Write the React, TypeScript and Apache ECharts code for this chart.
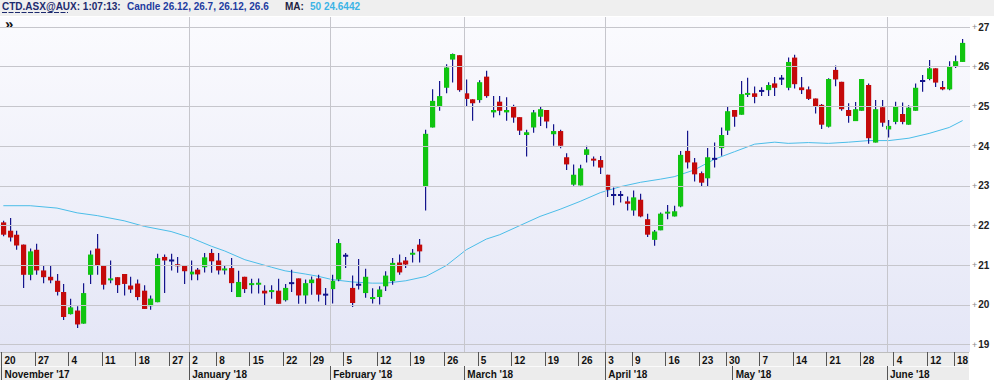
import React, { useEffect, useRef } from 'react';
import * as echarts from 'echarts';

// ---- Data ----
const opens = [22.08,21.87,21.77,21.52,20.76,21.39,20.87,20.71,20.61,20.33,19.77,19.86,19.53,20.76,21.42,20.99,20.62,20.70,20.78,20.49,20.54,20.36,19.97,20.07,21.21,21.12,21.02,20.99,20.77,20.89,20.95,21.31,21.12,20.87,20.93,20.20,20.71,20.50,20.52,20.36,20.33,20.36,20.12,20.55,20.67,20.24,20.55,20.67,20.26,20.40,20.64,21.24,20.43,20.51,20.30,20.15,20.20,20.47,20.60,21.07,21.12,21.27,21.52,22.98,24.47,24.99,25.47,26.18,26.29,25.33,25.18,25.16,25.75,24.85,25.12,24.85,25.01,24.73,24.28,24.47,24.74,24.91,24.30,24.38,23.72,23.03,23.01,23.78,23.68,23.65,23.28,22.77,22.77,22.61,22.38,22.65,22.16,21.64,21.88,22.30,22.23,22.48,23.88,23.59,23.32,23.19,23.68,23.95,24.39,24.91,24.79,25.29,25.33,25.39,25.41,25.58,25.70,25.47,26.23,25.48,25.43,25.20,25.04,24.49,25.92,25.62,24.91,24.63,24.89,25.54,24.09,24.98,24.42,24.61,24.81,24.54,24.89,25.64,25.69,25.96,25.49,25.43,26.01,26.12];
const highs = [22.12,22.19,21.87,21.52,21.42,21.54,20.99,20.99,20.78,20.53,20.16,19.97,20.55,21.37,21.79,20.99,21.12,20.70,20.78,20.71,20.64,20.50,20.24,21.29,21.27,21.29,21.21,20.99,21.12,20.93,21.31,21.41,21.31,20.99,21.18,20.86,20.71,20.66,20.67,20.50,20.50,20.66,20.53,20.89,20.67,20.64,20.72,20.76,20.43,20.76,21.66,21.31,20.74,21.16,20.91,20.42,20.47,20.85,21.18,21.27,21.21,21.41,21.66,24.41,25.43,25.64,26.06,26.33,26.29,25.68,25.18,25.66,25.90,25.26,25.26,25.23,25.04,24.73,24.41,24.91,25.01,24.91,24.55,24.41,23.82,23.54,23.53,24.01,23.74,23.75,23.28,22.96,22.87,22.73,22.88,22.80,22.30,21.89,22.33,22.52,22.50,23.88,24.39,23.70,23.36,23.95,24.09,24.47,24.99,24.91,25.64,25.72,25.50,25.48,25.61,25.74,25.79,26.23,26.30,25.74,25.50,25.20,25.06,25.71,26.03,25.62,25.08,25.11,25.69,25.58,25.16,25.16,24.66,25.12,25.10,25.03,25.58,25.79,26.17,25.96,25.64,26.14,26.28,26.70];
const lows = [21.73,21.60,21.39,20.43,20.62,20.76,20.55,20.55,20.24,19.62,19.76,19.42,19.53,20.53,20.76,20.39,20.55,20.30,20.24,20.30,20.12,19.90,19.88,20.07,20.30,20.87,20.81,20.53,20.62,20.62,20.82,20.81,20.77,20.77,20.33,20.20,20.30,20.29,20.29,19.99,20.16,20.03,20.09,20.33,20.03,20.03,20.26,20.09,19.98,20.04,20.60,20.93,19.95,20.39,20.18,20.04,20.01,20.35,20.51,20.76,20.93,21.07,21.07,22.38,24.47,24.89,25.33,25.60,25.37,25.01,24.64,25.09,25.22,24.72,24.78,24.64,24.59,24.28,23.74,24.34,24.51,24.45,24.01,23.95,23.40,23.00,23.01,23.59,23.49,23.30,22.72,22.51,22.58,22.38,22.25,22.21,21.71,21.49,21.88,22.16,22.23,22.46,23.44,23.11,22.98,22.98,23.46,23.76,24.28,24.49,24.79,25.24,25.08,25.26,25.26,25.26,25.54,25.41,25.45,25.31,25.16,24.82,24.43,24.47,25.51,24.89,24.59,24.63,24.89,24.06,24.09,24.49,24.22,24.55,24.55,24.54,24.89,25.37,25.66,25.49,25.41,25.41,25.97,26.12];
const closes = [21.77,21.70,21.50,20.76,21.35,20.87,20.70,20.62,20.33,19.70,19.94,19.51,20.30,21.27,20.99,20.51,20.67,20.50,20.53,20.39,20.20,19.90,20.16,21.18,21.12,21.12,20.98,20.85,20.84,20.77,21.20,21.10,20.87,20.92,20.55,20.58,20.40,20.55,20.55,20.29,20.37,20.03,20.43,20.55,20.24,20.55,20.64,20.26,20.26,20.61,21.56,21.24,20.05,20.51,20.71,20.20,20.39,20.74,21.06,20.82,21.02,21.31,21.35,24.31,25.14,25.26,25.98,26.32,25.41,25.19,25.08,25.61,25.26,24.91,24.89,24.91,24.72,24.39,24.35,24.85,24.93,24.62,24.38,24.01,23.54,23.28,23.44,23.92,23.64,23.46,22.90,22.77,22.77,22.55,22.71,22.23,21.77,21.85,22.30,22.35,22.36,23.78,23.59,23.29,23.08,23.72,23.68,24.28,24.88,24.74,25.31,25.34,25.24,25.39,25.54,25.47,25.70,26.12,25.56,25.41,25.19,24.99,24.54,25.69,25.68,24.93,24.76,24.93,25.69,24.20,24.93,24.59,24.51,25.01,24.61,24.97,25.47,25.64,25.96,25.60,25.43,26.01,26.14,26.60];

const maIndex = [0,4,8,11,14,18,21,25,28,31,33,36,40,42,45,47,49,52,55,57,60,63,66,69,72,74,77,80,83,86,89,92,95,98,100,103,106,109,112,115,117,120,123,126,129,132,135,138,141,143];
const maValues = [22.50,22.50,22.44,22.32,22.25,22.12,21.98,21.85,21.69,21.48,21.36,21.14,20.95,20.86,20.78,20.72,20.64,20.58,20.55,20.55,20.61,20.72,20.99,21.39,21.66,21.77,22.00,22.23,22.41,22.61,22.83,22.98,23.09,23.17,23.23,23.40,23.67,23.86,24.05,24.10,24.07,24.09,24.07,24.10,24.14,24.14,24.20,24.32,24.47,24.6442];
const maPeriod = 50;

const weekTickIdx = [0,5,10,15,20,25,28,32,37,42,46,51,56,61,66,71,76,81,86,90,94,99,104,108,113,118,123,128,133,138,142];
const weekTickLabels = ['20','27','4','11','18','27','2','8','15','22','29','5','12','19','26','5','12','19','26','3','9','16','23','30','7','14','21','28','4','12','18'];
const monthTickIdx = [0,28,49,69,90,109,132];
const monthTickLabels = ["November '17","January '18","February '18","March '18","April '18","May '18","June '18"];
const monthGridIdx = [28,49,69,90,132];
const yTicks = [19,20,21,22,23,24,25,26,27];

const symbolText = 'CTD.ASX@AUX';
const timeText = '1:07:13';

// ---- Styles ----
const GREEN = '#10c410';
const RED = '#c40a0a';
const NAVY = '#14148c';
const MA_COLOR = '#4bbde8';
const FONT = "'Liberation Sans', Arial, sans-serif";
const SEP = 0.28;

export default function App() {
  const ref = useRef<HTMLDivElement>(null);
  useEffect(() => {
    if (!ref.current) return;
    const chart = echarts.init(ref.current, undefined, { renderer: 'svg' });
    const n = closes.length;
    const last = n - 1;
    const candleData = closes.map((c, i) => [i, opens[i], c, lows[i], highs[i]]);
    const maData = maIndex.map((i, k) => [i, maValues[k]]);
    const weekMap: Record<number, string> = {};
    weekTickIdx.forEach((i, k) => (weekMap[i] = weekTickLabels[k]));
    const monthMap: Record<number, string> = {};
    monthTickIdx.forEach((i, k) => (monthMap[i] = monthTickLabels[k]));
    const xMin = -0.5;
    const xMax = 144.1;

    const option: any = {
      animation: false,
      backgroundColor: '#ffffff',
      grid: { left: 0, right: 24, top: 17, bottom: 28, containLabel: false },
      xAxis: [
        { type: 'value', min: xMin, max: xMax, show: false },
        {
          type: 'value', min: xMin, max: xMax, position: 'bottom', offset: 0,
          axisLine: { show: false }, splitLine: { show: false },
          axisTick: { show: true, customValues: weekTickIdx.map((i) => i - SEP), length: 14, lineStyle: { color: '#555', width: 1 } },
          axisLabel: {
            show: true, customValues: weekTickIdx.map((i) => i - SEP),
            formatter: (v: number) => weekMap[Math.round(v + SEP)] ?? '',
            align: 'left', margin: 3, padding: [0, 0, 0, 3], color: '#111', fontWeight: 'bold', fontSize: 10, fontFamily: FONT,
          },
        },
        {
          type: 'value', min: xMin, max: xMax, position: 'bottom', offset: 14,
          axisLine: { show: false }, splitLine: { show: false },
          axisTick: { show: true, customValues: monthTickIdx.map((i) => i - SEP), length: 14, lineStyle: { color: '#555', width: 1 } },
          axisLabel: {
            show: true, customValues: monthTickIdx.map((i) => i - SEP),
            formatter: (v: number) => monthMap[Math.round(v + SEP)] ?? '',
            align: 'left', margin: 3, padding: [0, 0, 0, 3], color: '#111', fontWeight: 'bold', fontSize: 10, fontFamily: FONT,
          },
        },
      ],
      yAxis: {
        type: 'value', min: 18.816, max: 27.252, position: 'right',
        axisLine: { show: false }, axisTick: { show: false }, splitLine: { show: false },
        axisLabel: {
          show: true, customValues: yTicks, margin: 2,
          formatter: (v: number) => '{p|+}{n|' + v + '}',
          rich: {
            p: { color: '#888', fontSize: 9, fontFamily: FONT },
            n: { color: '#222', fontSize: 10, fontWeight: 'bold', fontFamily: FONT, padding: [0, 0, 0, 1] },
          },
        },
      },
      graphic: [
        { type: 'rect', z: -10, shape: { x: 0, y: 0, width: 994, height: 16 }, style: { fill: '#efefef' } },
        {
          type: 'rect', z: -10, shape: { x: 0, y: 17, width: 970, height: 335 },
          style: { fill: new echarts.graphic.LinearGradient(0, 0, 0, 1, [
            { offset: 0, color: '#fbfbfe' }, { offset: 1, color: '#e4e6f6' },
          ]) },
        },
        { type: 'rect', z: -10, shape: { x: 0, y: 352, width: 969, height: 28 }, style: { fill: '#ececec' } },
        { type: 'line', z: -9, shape: { x1: 0, y1: 352.5, x2: 969, y2: 352.5 }, style: { stroke: '#bdbdbd', lineWidth: 1 } },
        { type: 'line', z: -9, shape: { x1: 0, y1: 366.5, x2: 969, y2: 366.5 }, style: { stroke: '#fafafa', lineWidth: 1 } },
        { type: 'text', x: 2, y: 1, style: { text: symbolText + ': ' + timeText + ':', fill: '#1c2a6e', font: 'bold 10px ' + FONT, verticalAlign: 'top' } },
        { type: 'line', shape: { x1: 2, y1: 12.5, x2: 68, y2: 12.5 }, style: { stroke: '#1c2a6e', lineWidth: 1, lineDash: [5, 1.5] } },
        {
          type: 'text', x: 127, y: 1,
          style: { text: 'Candle ' + [opens[last], highs[last], lows[last], closes[last]].join(', '), fill: '#1e3ca0', font: 'bold 10px ' + FONT, verticalAlign: 'top' },
        },
        { type: 'text', x: 285, y: 1, style: { text: 'MA:', fill: '#222244', font: 'bold 10px ' + FONT, verticalAlign: 'top' } },
        { type: 'text', x: 310, y: 1, style: { text: maPeriod + ' ' + maValues[maValues.length - 1], fill: '#3cb4e6', font: 'bold 10px ' + FONT, verticalAlign: 'top' } },
        { type: 'text', x: 5, y: 23.5, style: { text: '\u00bb', fill: '#111', font: 'bold 15px ' + FONT, verticalAlign: 'middle' } },
      ],
      series: [
        {
          type: 'line', xAxisIndex: 0, yAxisIndex: 0, z: 2,
          data: maData, showSymbol: false, symbol: 'none', smooth: false,
          lineStyle: { color: MA_COLOR, width: 1 },
          markLine: {
            silent: true, symbol: ['none', 'none'], label: { show: false },
            lineStyle: { color: '#c6c6cc', width: 1, type: 'solid' },
            data: [
              ...yTicks.map((v) => ({ yAxis: v })),
              ...monthGridIdx.map((i) => ({ xAxis: i - SEP })),
            ],
          },
        },
        {
          type: 'custom', xAxisIndex: 0, yAxisIndex: 0, z: 3,
          encode: { x: 0, y: [1, 2, 3, 4] },
          data: candleData,
          renderItem: (params: any, api: any) => {
            const i = api.value(0);
            const o = api.value(1);
            const c = api.value(2);
            const l = api.value(3);
            const h = api.value(4);
            const po = api.coord([i, o]);
            const pc = api.coord([i, c]);
            const pl = api.coord([i, l]);
            const ph = api.coord([i, h]);
            const cx = Math.round(po[0] - 0.5);
            const color = c > o ? GREEN : c < o ? RED : NAVY;
            let top = Math.min(po[1], pc[1]);
            let bh = Math.abs(po[1] - pc[1]);
            if (bh < 2) { top = (po[1] + pc[1]) / 2 - 1; bh = 2; }
            return {
              type: 'group',
              children: [
                { type: 'rect', shape: { x: cx, y: ph[1], width: 1.2, height: Math.max(pl[1] - ph[1], 1) }, style: { fill: NAVY } },
                { type: 'rect', shape: { x: cx - 2, y: top, width: 5.2, height: bh }, style: { fill: color } },
              ],
            };
          },
        },
      ],
    };
    chart.setOption(option);
    return () => chart.dispose();
  }, []);
  return <div ref={ref} style={{ position: 'absolute', left: 0, top: 0, width: 994, height: 380 }} />;
}
